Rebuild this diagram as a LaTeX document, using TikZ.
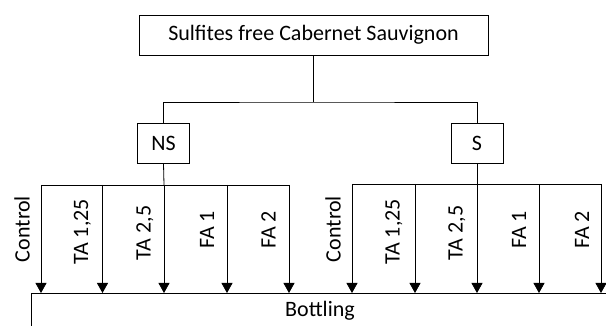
\documentclass[tikz,border=0pt]{standalone}
\usepackage{fontspec}
\setmainfont{Carlito}
\usetikzlibrary{arrows.meta}
\begin{document}
\begin{tikzpicture}[x=1pt,y=-1pt,
  every node/.style={font=\fontsize{22}{26}\selectfont, inner sep=0pt},
  boxnode/.style={draw, line width=0.8pt, minimum height=40pt},
  conn/.style={line width=0.8pt},
  arr/.style={conn, -{Triangle[width=11pt,length=10pt]}},
  lab/.style={rotate=90}]
\useasboundingbox (0,0) rectangle (606,326);
\node[boxnode, minimum width=349pt] (top) at (313.5,35) {Sulfites free Cabernet Sauvignon};
\node[boxnode, minimum width=52pt] (NS) at (163.5,143) {NS};
\node[boxnode, minimum width=52pt] (S) at (477,143) {S};
\coordinate (j) at (313.5,102);
\draw[conn] (top.south) -- (j);
\draw[conn] (NS.north) |- (j) -| (S.north);
% Bottling
\coordinate (bl) at (31,326);
\coordinate (btl) at (31,293);
\coordinate (btr) at (606,293);
\draw[conn] (bl) -- (btl) -- (btr);
\node (bot) at (320,311) {Bottling};
% NS branches
\foreach \i/\x in {1/41,2/102.5,3/164,4/227,5/289}{
  \coordinate (n\i) at (\x,185);
  \coordinate (nb\i) at (\x,293);
}
\draw[conn] (NS.south) -- (n3);
\draw[conn] (n1) -- (n5);
\foreach \i in {1,...,5}{ \draw[arr] (n\i) -- (nb\i); }
\node[lab] (nl1) at (22,229) {Control};
\node[lab] (nl2) at (82.5,232) {TA 1,25};
\node[lab] (nl3) at (145,233) {TA 2,5};
\node[lab] (nl4) at (207,230) {FA 1};
\node[lab] (nl5) at (268.5,230) {FA 2};
% S branches
\foreach \i/\x in {1/352,2/415,3/477,4/539,5/601}{
  \coordinate (s\i) at (\x,184);
  \coordinate (sb\i) at (\x,293);
}
\draw[conn] (S.south) -- (s3);
\draw[conn] (s1) -- (s5);
\foreach \i in {1,...,5}{ \draw[arr] (s\i) -- (sb\i); }
\node[lab] (sl1) at (333,229) {Control};
\node[lab] (sl2) at (394,232) {TA 1,25};
\node[lab] (sl3) at (457,233) {TA 2,5};
\node[lab] (sl4) at (519,230) {FA 1};
\node[lab] (sl5) at (582,230) {FA 2};
\end{tikzpicture}
\end{document}
